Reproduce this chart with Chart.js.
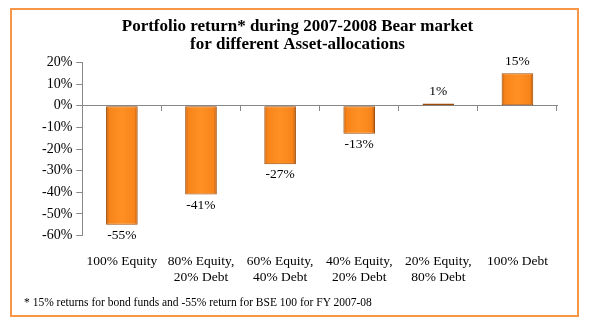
<!DOCTYPE html>
<html>
<head>
<meta charset="utf-8">
<script src="https://cdn.jsdelivr.net/npm/chart.js@4/dist/chart.umd.min.js"></script>
<style>
  html,body{margin:0;padding:0;background:#fff;}
  #frame{position:absolute;left:10px;top:8px;width:565px;height:305px;border:2px solid #f79646;box-sizing:content-box;}
  #wrap{position:absolute;left:0;top:0;width:590px;height:321px;}
  #note{position:absolute;left:24px;top:296px;font:11.5px "Liberation Serif",serif;color:#000;}
</style>
</head>
<body>
<div id="frame"></div>
<div id="wrap"><canvas id="c" width="590" height="321"></canvas></div>
<div id="note">* 15% returns for bond funds and -55% return for BSE 100 for FY 2007-08</div>
<script>
const CATEGORIES = [['100% Equity'],['80% Equity,','20% Debt'],['60% Equity,','40% Debt'],['40% Equity,','20% Debt'],['20% Equity,','80% Debt'],['100% Debt']];
const RETURNS = [-55, -41, -27, -13, 1, 15];
const TITLE = ['Portfolio return* during 2007-2008 Bear market','for different Asset-allocations'];
const SERIF = '"Liberation Serif", "Times New Roman", serif';
const BAR_PCT = 0.4;

function barFill(ctx){
  const chart = ctx.chart; const xs = chart.scales.x; const area = chart.chartArea;
  if(!xs || !area || ctx.dataIndex==null) return '#f7861a';
  const cx = xs.getPixelForValue(ctx.dataIndex);
  const w = (area.right-area.left)/CATEGORIES.length*BAR_PCT;
  if(!isFinite(cx)) return '#f7861a';
  const g = chart.ctx.createLinearGradient(cx-w/2,0,cx+w/2,0);
  g.addColorStop(0,'#c85c04'); g.addColorStop(0.1,'#f7841a');
  g.addColorStop(0.5,'#ff9024'); g.addColorStop(0.9,'#f7841a'); g.addColorStop(1,'#b85204');
  return g;
}

const valueLabels = {
  id:'valueLabels',
  afterDatasetsDraw(chart){
    const c = chart.ctx; const meta = chart.getDatasetMeta(0);
    c.save(); c.font = '13.5px '+SERIF; c.fillStyle = '#000'; c.textAlign = 'center';
    meta.data.forEach((bar,i)=>{
      const v = RETURNS[i];
      if(v<0){ c.textBaseline='top'; c.fillText(v+'%', bar.x, bar.y+4); }
      else { c.textBaseline='bottom'; c.fillText(v+'%', bar.x, bar.y-5); }
    });
    c.restore();
  }
};

new Chart(document.getElementById('c'),{
  type:'bar',
  data:{labels:CATEGORIES,datasets:[{data:RETURNS,backgroundColor:barFill,borderColor:'#9c4a06',borderWidth:1,borderSkipped:false,barPercentage:BAR_PCT,categoryPercentage:1}]},
  options:{
    responsive:false,animation:false,
    layout:{padding:{left:38,right:33,top:13,bottom:25}},
    plugins:{
      legend:{display:false},tooltip:{enabled:false},
      title:{display:true,text:TITLE,color:'#000',font:{family:SERIF,size:17,weight:'bold',lineHeight:1.1},padding:{top:4,bottom:8}}
    },
    scales:{
      x:{grid:{display:false},border:{display:false},
         ticks:{color:'#000',font:{family:SERIF,size:13.5},padding:10,maxRotation:0,autoSkip:false}},
      x2:{type:'category',labels:CATEGORIES,position:{y:0},offset:true,
         grid:{offset:true,drawOnChartArea:false,tickLength:5,color:'#888'},
         border:{color:'#888',width:1},ticks:{display:false}},
      y:{min:-60,max:20,
         grid:{drawOnChartArea:false,tickLength:6,color:'#888'},border:{color:'#888'},
         ticks:{stepSize:10,color:'#000',font:{family:SERIF,size:14},padding:4,callback:v=>v+'%'}}
    }
  },
  plugins:[valueLabels]
});
</script>
</body>
</html>
